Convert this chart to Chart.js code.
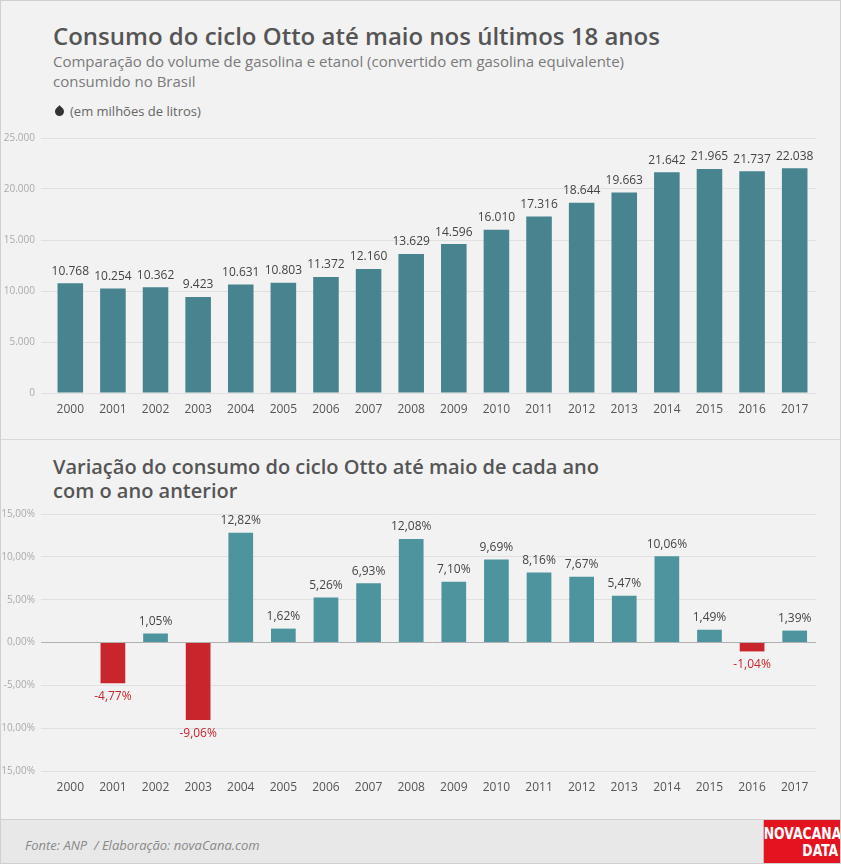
<!DOCTYPE html>
<html><head><meta charset="utf-8">
<script src="https://cdn.jsdelivr.net/npm/chart.js@4"></script>
<style>
body{margin:0;background:#f2f2f2;font-family:"Open Sans",sans-serif;}
#wrap{position:relative;width:839px;height:862px;border:1px solid #d0d0d0;background:#f2f2f2;overflow:hidden}
.t{position:absolute;left:52px;color:#555;white-space:nowrap}
canvas{position:absolute;left:0}
</style></head><body><div id="wrap">
<div class="t" style="top:18px;font-size:24px;font-weight:600;color:#555">Consumo do ciclo Otto até maio nos últimos 18 anos</div>
<div class="t" style="top:50px;font-size:15px;color:#7a7a7a;line-height:20px">Comparação do volume de gasolina e etanol (convertido em gasolina equivalente)<br>consumido no Brasil</div>
<div style="position:absolute;left:54px;top:106px;width:9px;height:9px;background:#333;border-radius:0 50% 50% 50%;transform:rotate(45deg)"></div>
<div class="t" style="left:69px;top:101px;font-size:13px;color:#666">(em milhões de litros)</div>
<div style="position:absolute;left:0;top:438px;width:841px;height:1px;background:#d8d8d8"></div>
<div class="t" style="top:454px;font-size:20px;font-weight:600;line-height:24px;color:#555">Variação do consumo do ciclo Otto até maio de cada ano<br>com o ano anterior</div>
<div style="position:absolute;left:0;top:818px;width:841px;height:46px;background:#e8e8e8;border-top:1px solid #d0d0d0"></div>
<div class="t" style="left:24px;top:835px;font-size:13px;font-style:italic;color:#888">Fonte: ANP &nbsp;/ Elaboração: novaCana.com</div>
<div style="position:absolute;left:756px;top:819px;width:84px;height:44px;background:#e3141f;color:#fff;font-family:'Liberation Sans Narrow','DejaVu Sans Condensed',sans-serif;font-weight:700;font-size:15px;line-height:17px;text-align:right;padding:6px 3px 0 0;box-sizing:border-box;transform:scaleX(0.92);transform-origin:right">NOVACANA<br>DATA</div>
<canvas id="c1" style="top:125px" width="841" height="295"></canvas>
<canvas id="c2" style="top:501px" width="841" height="297"></canvas>
</div>
<script>
const years=["2000","2001","2002","2003","2004","2005","2006","2007","2008","2009","2010","2011","2012","2013","2014","2015","2016","2017"];
const consumo=[10768,10254,10362,9423,10631,10803,11372,12160,13629,14596,16010,17316,18644,19663,21642,21965,21737,22038];
const variacao=[null,-4.77,1.05,-9.06,12.82,1.62,5.26,6.93,12.08,7.10,9.69,8.16,7.67,5.47,10.06,1.49,-1.04,1.39];
const fmtK=v=>v.toLocaleString('de-DE');
const fmtP=v=>v.toFixed(2).replace('.',',')+'%';
const labelPlugin={id:'lbl',afterDatasetsDraw(ch){const ctx=ch.ctx;const ds=ch.data.datasets[0];const meta=ch.getDatasetMeta(0);const pct=ch.canvas.id==='c2';
ctx.save();ctx.font='12px "Open Sans", sans-serif';ctx.textAlign='center';
meta.data.forEach((b,i)=>{const v=ds.data[i];if(v==null)return;
if(pct){if(v<0){ctx.fillStyle='#c9252c';ctx.textBaseline='top';ctx.fillText(fmtP(v),b.x,b.y+7);}else{ctx.fillStyle='#444';ctx.textBaseline='bottom';ctx.fillText(fmtP(v),b.x,b.y-6);}}
else{ctx.fillStyle='#444';ctx.textBaseline='bottom';ctx.fillText(fmtK(v),b.x,b.y-6);}});ctx.restore();}};
function opts(min,max,step,fmt,pct){return{responsive:false,animation:false,layout:{padding:{top:4,right:26,left:0,bottom:0}},
plugins:{legend:{display:false},tooltip:{enabled:false}},
scales:{x:{grid:{display:false},border:{display:false},ticks:{color:'#555',font:{size:12,family:'Open Sans'},padding:1},afterFit:s=>{s.height=28}},
y:{min,max,border:{display:false},ticks:{stepSize:step,color:'#aaa',font:{size:10,family:'Open Sans'},callback:fmt,padding:6},
grid:{color:c=>(pct&&c.tick.value===0)?'#b0b0b0':'#e0e0e0',lineWidth:1},afterFit:s=>{s.width=48}}}}}
new Chart(document.getElementById('c1'),{type:'bar',data:{labels:years,datasets:[{data:consumo,backgroundColor:'#47848f',barPercentage:0.6,categoryPercentage:1}]},
options:opts(0,25000,5000,v=>fmtK(v),false),plugins:[labelPlugin]});
new Chart(document.getElementById('c2'),{type:'bar',data:{labels:years,datasets:[{data:variacao,backgroundColor:variacao.map(v=>v<0?'#c9252c':'#4e949e'),barPercentage:0.58,categoryPercentage:1}]},
options:opts(-15,15,5,v=>v.toFixed(2).replace('.',',')+'%',true),plugins:[labelPlugin]});
</script></body></html>
